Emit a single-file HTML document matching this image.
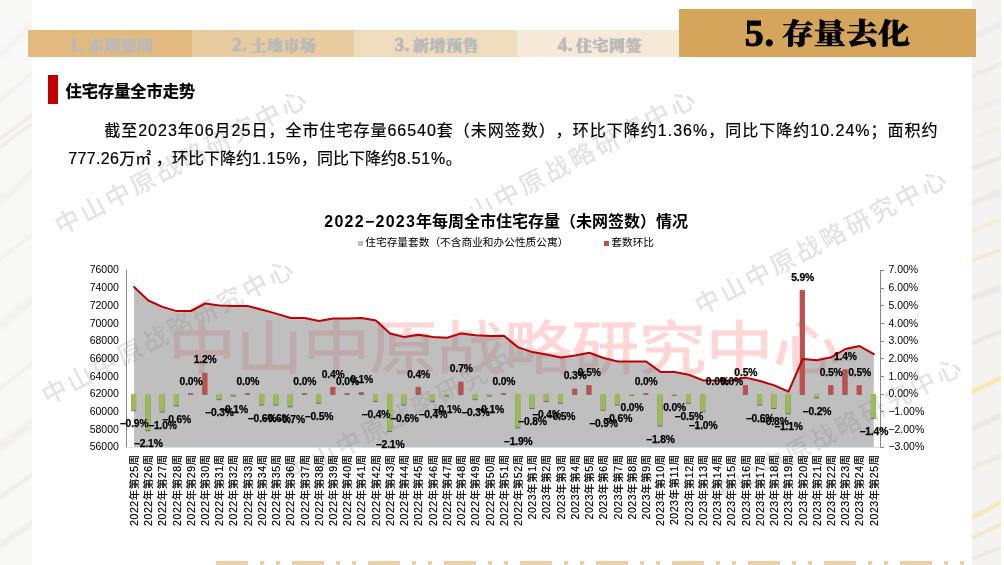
<!DOCTYPE html>
<html lang="zh-CN"><head><meta charset="utf-8"><title>5. 存量去化</title>
<style>
html,body{margin:0;padding:0}
body{width:1004px;height:565px;overflow:hidden;position:relative;background:#fff;font-family:"Liberation Sans","Noto Sans CJK SC",sans-serif;color:#000;text-spacing-trim:space-all}
#left{position:absolute;left:0;top:0}
#right{position:absolute;left:972px;top:0}
#rightw{position:absolute;left:1001px;top:0;width:3px;height:565px;background:#fff}
#panel{position:absolute;left:31.5px;top:0;width:940.5px;height:565px;background:#fff}
.tab{position:absolute;top:29.5px;height:27px;line-height:31px;text-align:center;font-family:"Liberation Serif","Noto Serif CJK SC",serif;font-weight:900;font-size:16px;letter-spacing:0.5px;color:#bababa;-webkit-text-stroke:0.8px #bababa;white-space:nowrap}
.tab .d{font-size:19px;display:inline-block;line-height:20px;vertical-align:baseline}
.tab .c{display:inline-block;transform:scaleY(0.92);transform-origin:50% 55%;margin-left:3px}
.tab{padding-left:3px;box-sizing:border-box}
#t5 .d{font-size:38px;display:inline-block;line-height:40px;position:relative;top:2.8px;left:0.8px;-webkit-text-stroke:1px #000}
#t5 .c{display:inline-block;transform:scaleY(0.905);transform-origin:50% 55%;margin-left:8px;letter-spacing:0.1px;position:relative;top:1.5px;left:-0.5px}
#t1{left:28px;width:164px;background:#e2ba80}
#t2{left:192px;width:162px;background:#e8cb9f}
#t3{left:354px;width:163px;background:#efdcbd}
#t4{left:517px;width:163px;background:#f6e9d8}
#t5{position:absolute;left:679px;top:9px;width:296.5px;height:47.5px;line-height:47.5px;letter-spacing:0.9px;background:#d6a55c;text-align:center;font-family:"Liberation Serif","Noto Serif CJK SC",serif;font-weight:900;font-size:32px;color:#000;-webkit-text-stroke:0.7px #000;white-space:nowrap}
#bar{position:absolute;left:48px;top:75px;width:10px;height:29px;background:#c00000}
#h{position:absolute;left:65.6px;top:80.4px;height:22px;line-height:22px;font-size:16.2px;font-weight:bold;-webkit-text-stroke:0.25px #000;white-space:nowrap}
.pl{position:absolute;font-size:16px;line-height:24px;height:24px;white-space:nowrap;-webkit-text-stroke:0.2px #000}
#p1{left:104.2px;top:118.6px;letter-spacing:1px}
#p2{left:68.3px;top:146.6px}
#p2 .n{letter-spacing:0.7px}
#p2 .n0{letter-spacing:0.35px}
#p2 .m{margin-right:4.7px}
#ct{position:absolute;left:322.3px;top:209px;padding:2px 4px 2px 2px;background:#fff;font-size:16px;font-weight:bold;line-height:22px;white-space:nowrap}
#ct .n{letter-spacing:1.25px}
.lg{position:absolute;top:235.3px;font-size:10.7px;line-height:14px;white-space:nowrap}
.lg i{display:inline-block;width:5px;height:5px;margin-right:2.5px;vertical-align:0.5px}
#chart{position:absolute;left:0;top:0}
#chart .bars{filter:drop-shadow(0.6px 1px 0.7px rgba(0,0,0,0.45))}
#chart .ax{font-family:"Liberation Sans",sans-serif;font-size:10.5px;fill:#000}
#chart .cat{font-family:"Liberation Sans","Noto Sans CJK SC",sans-serif;font-size:10.5px;letter-spacing:0.56px;fill:#000;stroke:#000;stroke-width:0.2px}
#chart .dl{font-family:"Liberation Sans",sans-serif;font-size:10.3px;font-weight:bold;fill:#000;text-anchor:middle;letter-spacing:-0.15px;stroke:#000;stroke-width:0.25px}
.wm{position:absolute;font-size:25px;line-height:28px;font-weight:500;letter-spacing:3.3px;color:#e3e3e3;white-space:nowrap;transform-origin:100% 50%;transform:translate(-100%,-50%) rotate(-27.8deg) translate(15.8px,0)}
#big{position:absolute;left:168.25px;top:320.4px;height:67.5px;font-size:67.5px;line-height:67.5px;letter-spacing:-0.3px;white-space:nowrap;color:#ffd5d5;-webkit-text-stroke:1px #ffd5d5;transform-origin:0 0;transform:scaleY(0.852)}
#strip{position:absolute;left:216px;top:561px;width:749px;height:4px;background:repeating-linear-gradient(90deg,#ebcfa5 0,#ebcfa5 32px,transparent 32px,transparent 44.2px,#ebcfa5 44.2px,#ebcfa5 47.7px,transparent 47.7px,transparent 60.3px,#ebcfa5 60.3px,#ebcfa5 63.7px,transparent 63.7px,transparent 76px)}
</style></head><body>
<svg id="left" width="32" height="565" viewBox="0 0 32 565"><defs><filter id="bl" x="-50%" y="-5%" width="200%" height="110%"><feGaussianBlur stdDeviation="1.2"/></filter></defs><rect width="32" height="565" fill="#f8f8f7"/><g filter="url(#bl)" fill="none" stroke-linecap="butt"><path d="M-4 60 L36 20" stroke="#f3f3f2" stroke-width="6"/><path d="M-4 104 L36 70" stroke="#f2f1f0" stroke-width="4"/><path d="M-4 142 L36 112" stroke="#efe9d6" stroke-width="2.5"/><path d="M-4 150 L36 121" stroke="#e9e6e6" stroke-width="2"/><path d="M-4 205 L36 170" stroke="#f2f2f1" stroke-width="7"/><path d="M-4 262 L36 232" stroke="#f1f0ef" stroke-width="3"/><path d="M-4 330 L36 296" stroke="#f3f2f1" stroke-width="8"/><path d="M-4 392 L36 360" stroke="#f0efee" stroke-width="3"/><path d="M-4 450 L36 420" stroke="#f2f1f0" stroke-width="9"/><path d="M-4 500 L36 472" stroke="#eeedec" stroke-width="4"/><path d="M-4 548 L36 520" stroke="#f0efee" stroke-width="6"/></g></svg><svg id="right" width="29" height="565" viewBox="0 0 29 565"><defs><filter id="br" x="-50%" y="-5%" width="200%" height="110%"><feGaussianBlur stdDeviation="1.1"/></filter></defs><rect width="29" height="565" fill="#f4f3f1"/><g filter="url(#br)" fill="none"><path d="M-4 40 L33 22" stroke="#eceae7" stroke-width="5"/><path d="M-4 78 L33 62" stroke="#e9e7e4" stroke-width="3"/><path d="M-4 112 L33 98" stroke="#efeee9" stroke-width="6"/><path d="M-4 140 L33 126" stroke="#f1edd9" stroke-width="2.5"/><path d="M-4 170 L33 156" stroke="#e8e6e3" stroke-width="4"/><path d="M-4 205 L33 190" stroke="#ebe9e6" stroke-width="6"/><path d="M-4 232 L33 218" stroke="#f1ecd0" stroke-width="3"/><path d="M-4 262 L33 248" stroke="#efe9c4" stroke-width="3"/><path d="M-4 300 L33 286" stroke="#eae8e5" stroke-width="6"/><path d="M-4 345 L33 330" stroke="#e6e4e1" stroke-width="3"/><path d="M-4 394 L33 376" stroke="#f1eaa6" stroke-width="4.5"/><path d="M-4 430 L33 414" stroke="#e9e7e4" stroke-width="5"/><path d="M-4 470 L33 454" stroke="#ece9dc" stroke-width="4"/><path d="M-4 520 L33 500" stroke="#f0e9ae" stroke-width="4"/><path d="M-4 540 L33 522" stroke="#efe8b8" stroke-width="3"/><path d="M-4 560 L33 546" stroke="#e8e6e3" stroke-width="3"/></g></svg><div id="rightw"></div>
<div id="panel"></div>
<div id="big">中山中原战略研究中心</div>
<div class="wm" style="left:293.2px;top:102.8px">中山中原战略研究中心</div>
<div class="wm" style="left:279.6px;top:272.6px">中山中原战略研究中心</div>
<div class="wm" style="left:681.6px;top:103.0px">中山中原战略研究中心</div>
<div class="wm" style="left:933.0px;top:183.0px">中山中原战略研究中心</div>
<div class="wm" style="left:947.5px;top:371.0px">中山中原战略研究中心</div>
<div class="wm" style="left:524.0px;top:351.0px">中山中原战略研究中心</div>
<div class="tab" id="t1"><span class="d">1.</span><span class="c">本期要闻</span></div>
<div class="tab" id="t2"><span class="d">2.</span><span class="c">土地市场</span></div>
<div class="tab" id="t3"><span class="d">3.</span><span class="c">新增预售</span></div>
<div class="tab" id="t4"><span class="d">4.</span><span class="c">住宅网签</span></div>
<div id="t5"><span class="d">5.</span><span class="c">存量去化</span></div>
<div id="bar"></div>
<div id="h">住宅存量全市走势</div>
<div class="pl" id="p1">截至2023年06月25日，全市住宅存量66540套（未网签数），环比下降约1.36%，同比下降约10.24%；面积约</div>
<div class="pl" id="p2"><span class="n0">777.26</span>万<span class="m">㎡</span>，环比下降约<span class="n">1.15%</span>，同比下降约<span class="n">8.51%</span>。</div>
<div id="ct"><span class="n">2022−2023</span>年每周全市住宅存量（未网签数）情况</div>
<div class="lg" style="left:357.8px"><i style="background:#bfbfbf"></i>住宅存量套数（不含商业和办公性质公寓）</div>
<div class="lg" style="left:603.8px"><i style="background:#c0504d"></i>套数环比</div>
<svg id="chart" width="1004" height="565" viewBox="0 0 1004 565">
<polygon points="134.1,447.4 134.1,287.0 148.3,300.5 162.5,306.9 176.7,311.1 191.0,311.0 205.2,303.5 219.4,305.4 233.6,306.0 247.9,306.0 262.1,309.8 276.3,313.6 290.6,318.0 304.8,317.9 319.0,321.1 333.2,318.6 347.5,318.6 361.7,317.9 375.9,320.4 390.1,333.5 404.4,337.1 418.6,334.7 432.8,337.1 447.0,337.7 461.3,333.4 475.5,335.3 489.7,335.9 503.9,335.8 518.2,347.4 532.4,352.1 546.6,354.5 560.9,357.4 575.1,355.6 589.3,352.7 603.5,358.0 617.8,361.5 632.0,361.5 646.2,361.5 660.4,371.9 674.7,371.9 688.9,374.7 703.1,380.4 717.3,380.4 731.6,380.4 745.8,377.6 760.0,381.0 774.3,385.4 788.5,391.6 802.7,359.0 816.9,360.2 831.2,357.3 845.4,349.0 859.6,346.1 873.8,354.2 873.8,447.4" fill="rgb(127,127,127)" fill-opacity="0.5"/>
<line x1="126.5" y1="447.4" x2="880.5" y2="447.4" stroke="#d5e0ee" stroke-width="1"/>
<g class="bars">
<rect x="131.16" y="393.90" width="5.0" height="16.40" fill="#9bbb59"/>
<rect x="145.39" y="393.90" width="5.0" height="36.32" fill="#9bbb59"/>
<rect x="159.62" y="393.90" width="5.0" height="17.63" fill="#9bbb59"/>
<rect x="173.84" y="393.90" width="5.0" height="11.46" fill="#9bbb59"/>
<rect x="188.07" y="393.00" width="5.0" height="0.90" fill="#c0504d"/>
<rect x="202.30" y="372.74" width="5.0" height="21.16" fill="#c0504d"/>
<rect x="216.52" y="393.90" width="5.0" height="5.29" fill="#9bbb59"/>
<rect x="230.75" y="393.90" width="5.0" height="1.76" fill="#9bbb59"/>
<rect x="244.97" y="393.00" width="5.0" height="0.90" fill="#c0504d"/>
<rect x="259.20" y="393.90" width="5.0" height="10.58" fill="#9bbb59"/>
<rect x="273.43" y="393.90" width="5.0" height="10.58" fill="#9bbb59"/>
<rect x="287.65" y="393.90" width="5.0" height="12.34" fill="#9bbb59"/>
<rect x="301.88" y="393.00" width="5.0" height="0.90" fill="#c0504d"/>
<rect x="316.11" y="393.90" width="5.0" height="8.81" fill="#9bbb59"/>
<rect x="330.33" y="386.85" width="5.0" height="7.05" fill="#c0504d"/>
<rect x="344.56" y="393.00" width="5.0" height="0.90" fill="#c0504d"/>
<rect x="358.79" y="392.14" width="5.0" height="1.76" fill="#c0504d"/>
<rect x="373.01" y="393.90" width="5.0" height="7.05" fill="#9bbb59"/>
<rect x="387.24" y="393.90" width="5.0" height="37.02" fill="#9bbb59"/>
<rect x="401.47" y="393.90" width="5.0" height="10.58" fill="#9bbb59"/>
<rect x="415.69" y="386.85" width="5.0" height="7.05" fill="#c0504d"/>
<rect x="429.92" y="393.90" width="5.0" height="7.05" fill="#9bbb59"/>
<rect x="444.14" y="393.90" width="5.0" height="1.76" fill="#9bbb59"/>
<rect x="458.37" y="381.56" width="5.0" height="12.34" fill="#c0504d"/>
<rect x="472.60" y="393.90" width="5.0" height="5.29" fill="#9bbb59"/>
<rect x="486.82" y="393.90" width="5.0" height="1.76" fill="#9bbb59"/>
<rect x="501.05" y="393.00" width="5.0" height="0.90" fill="#c0504d"/>
<rect x="515.28" y="393.90" width="5.0" height="33.50" fill="#9bbb59"/>
<rect x="529.50" y="393.90" width="5.0" height="14.10" fill="#9bbb59"/>
<rect x="543.73" y="393.90" width="5.0" height="7.05" fill="#9bbb59"/>
<rect x="557.96" y="393.90" width="5.0" height="8.81" fill="#9bbb59"/>
<rect x="572.18" y="388.61" width="5.0" height="5.29" fill="#c0504d"/>
<rect x="586.41" y="385.08" width="5.0" height="8.81" fill="#c0504d"/>
<rect x="600.63" y="393.90" width="5.0" height="15.87" fill="#9bbb59"/>
<rect x="614.86" y="393.90" width="5.0" height="10.58" fill="#9bbb59"/>
<rect x="629.09" y="393.90" width="5.0" height="0.90" fill="#9bbb59"/>
<rect x="643.31" y="393.00" width="5.0" height="0.90" fill="#c0504d"/>
<rect x="657.54" y="393.90" width="5.0" height="31.73" fill="#9bbb59"/>
<rect x="671.77" y="393.90" width="5.0" height="0.90" fill="#9bbb59"/>
<rect x="685.99" y="393.90" width="5.0" height="8.81" fill="#9bbb59"/>
<rect x="700.22" y="393.90" width="5.0" height="17.63" fill="#9bbb59"/>
<rect x="742.90" y="385.08" width="5.0" height="8.81" fill="#c0504d"/>
<rect x="757.13" y="393.90" width="5.0" height="10.58" fill="#9bbb59"/>
<rect x="771.35" y="393.90" width="5.0" height="14.10" fill="#9bbb59"/>
<rect x="785.58" y="393.90" width="5.0" height="19.39" fill="#9bbb59"/>
<rect x="799.80" y="289.88" width="5.0" height="104.02" fill="#c0504d"/>
<rect x="814.03" y="393.90" width="5.0" height="3.53" fill="#9bbb59"/>
<rect x="828.26" y="385.08" width="5.0" height="8.81" fill="#c0504d"/>
<rect x="842.48" y="369.22" width="5.0" height="24.68" fill="#c0504d"/>
<rect x="856.71" y="385.08" width="5.0" height="8.81" fill="#c0504d"/>
<rect x="870.94" y="393.90" width="5.0" height="23.98" fill="#9bbb59"/>
</g>
<polyline points="134.1,287.0 148.3,300.5 162.5,306.9 176.7,311.1 191.0,311.0 205.2,303.5 219.4,305.4 233.6,306.0 247.9,306.0 262.1,309.8 276.3,313.6 290.6,318.0 304.8,317.9 319.0,321.1 333.2,318.6 347.5,318.6 361.7,317.9 375.9,320.4 390.1,333.5 404.4,337.1 418.6,334.7 432.8,337.1 447.0,337.7 461.3,333.4 475.5,335.3 489.7,335.9 503.9,335.8 518.2,347.4 532.4,352.1 546.6,354.5 560.9,357.4 575.1,355.6 589.3,352.7 603.5,358.0 617.8,361.5 632.0,361.5 646.2,361.5 660.4,371.9 674.7,371.9 688.9,374.7 703.1,380.4 717.3,380.4 731.6,380.4 745.8,377.6 760.0,381.0 774.3,385.4 788.5,391.6 802.7,359.0 816.9,360.2 831.2,357.3 845.4,349.0 859.6,346.1 873.8,354.2" fill="none" stroke="#c00000" stroke-width="2" stroke-linejoin="round" stroke-linecap="round"/>
<g stroke="#868686" stroke-width="1" fill="none">
<line x1="126.5" y1="270.0" x2="126.5" y2="447.4"/>
<line x1="880.5" y1="270.0" x2="880.5" y2="447.9"/>
<line x1="880.5" y1="270.50" x2="884.0" y2="270.50"/>
<line x1="880.5" y1="288.50" x2="884.0" y2="288.50"/>
<line x1="880.5" y1="305.50" x2="884.0" y2="305.50"/>
<line x1="880.5" y1="323.50" x2="884.0" y2="323.50"/>
<line x1="880.5" y1="341.50" x2="884.0" y2="341.50"/>
<line x1="880.5" y1="358.50" x2="884.0" y2="358.50"/>
<line x1="880.5" y1="376.50" x2="884.0" y2="376.50"/>
<line x1="880.5" y1="394.50" x2="884.0" y2="394.50"/>
<line x1="880.5" y1="411.50" x2="884.0" y2="411.50"/>
<line x1="880.5" y1="429.50" x2="884.0" y2="429.50"/>
<line x1="880.5" y1="447.50" x2="884.0" y2="447.50"/>
</g>
<g class="ax">
<text x="118.9" y="273.4" text-anchor="end">76000</text>
<text x="888.4" y="273.4">7.00%</text>
<text x="118.9" y="291.1" text-anchor="end">74000</text>
<text x="888.4" y="291.1">6.00%</text>
<text x="118.9" y="308.8" text-anchor="end">72000</text>
<text x="888.4" y="308.8">5.00%</text>
<text x="118.9" y="326.5" text-anchor="end">70000</text>
<text x="888.4" y="326.5">4.00%</text>
<text x="118.9" y="344.2" text-anchor="end">68000</text>
<text x="888.4" y="344.2">3.00%</text>
<text x="118.9" y="361.8" text-anchor="end">66000</text>
<text x="888.4" y="361.8">2.00%</text>
<text x="118.9" y="379.5" text-anchor="end">64000</text>
<text x="888.4" y="379.5">1.00%</text>
<text x="118.9" y="397.2" text-anchor="end">62000</text>
<text x="888.4" y="397.2">0.00%</text>
<text x="118.9" y="414.9" text-anchor="end">60000</text>
<text x="888.4" y="414.9">−1.00%</text>
<text x="118.9" y="432.6" text-anchor="end">58000</text>
<text x="888.4" y="432.6">−2.00%</text>
<text x="118.9" y="450.3" text-anchor="end">56000</text>
<text x="888.4" y="450.3">−3.00%</text>
</g>
<g class="cat">
<text transform="translate(137.8,454.3) rotate(-90)" text-anchor="end">2022年第25周</text>
<text transform="translate(152.0,454.3) rotate(-90)" text-anchor="end">2022年第26周</text>
<text transform="translate(166.3,454.3) rotate(-90)" text-anchor="end">2022年第27周</text>
<text transform="translate(180.5,454.3) rotate(-90)" text-anchor="end">2022年第28周</text>
<text transform="translate(194.7,454.3) rotate(-90)" text-anchor="end">2022年第29周</text>
<text transform="translate(208.9,454.3) rotate(-90)" text-anchor="end">2022年第30周</text>
<text transform="translate(223.2,454.3) rotate(-90)" text-anchor="end">2022年第31周</text>
<text transform="translate(237.4,454.3) rotate(-90)" text-anchor="end">2022年第32周</text>
<text transform="translate(251.6,454.3) rotate(-90)" text-anchor="end">2022年第33周</text>
<text transform="translate(265.9,454.3) rotate(-90)" text-anchor="end">2022年第34周</text>
<text transform="translate(280.1,454.3) rotate(-90)" text-anchor="end">2022年第35周</text>
<text transform="translate(294.3,454.3) rotate(-90)" text-anchor="end">2022年第36周</text>
<text transform="translate(308.5,454.3) rotate(-90)" text-anchor="end">2022年第37周</text>
<text transform="translate(322.8,454.3) rotate(-90)" text-anchor="end">2022年第38周</text>
<text transform="translate(337.0,454.3) rotate(-90)" text-anchor="end">2022年第39周</text>
<text transform="translate(351.2,454.3) rotate(-90)" text-anchor="end">2022年第40周</text>
<text transform="translate(365.4,454.3) rotate(-90)" text-anchor="end">2022年第41周</text>
<text transform="translate(379.7,454.3) rotate(-90)" text-anchor="end">2022年第42周</text>
<text transform="translate(393.9,454.3) rotate(-90)" text-anchor="end">2022年第43周</text>
<text transform="translate(408.1,454.3) rotate(-90)" text-anchor="end">2022年第44周</text>
<text transform="translate(422.3,454.3) rotate(-90)" text-anchor="end">2022年第45周</text>
<text transform="translate(436.6,454.3) rotate(-90)" text-anchor="end">2022年第46周</text>
<text transform="translate(450.8,454.3) rotate(-90)" text-anchor="end">2022年第47周</text>
<text transform="translate(465.0,454.3) rotate(-90)" text-anchor="end">2022年第48周</text>
<text transform="translate(479.2,454.3) rotate(-90)" text-anchor="end">2022年第49周</text>
<text transform="translate(493.5,454.3) rotate(-90)" text-anchor="end">2022年第50周</text>
<text transform="translate(507.7,454.3) rotate(-90)" text-anchor="end">2022年第51周</text>
<text transform="translate(521.9,454.3) rotate(-90)" text-anchor="end">2022年第52周</text>
<text transform="translate(536.2,454.3) rotate(-90)" text-anchor="end">2023年第1周</text>
<text transform="translate(550.4,454.3) rotate(-90)" text-anchor="end">2023年第2周</text>
<text transform="translate(564.6,454.3) rotate(-90)" text-anchor="end">2023年第3周</text>
<text transform="translate(578.8,454.3) rotate(-90)" text-anchor="end">2023年第4周</text>
<text transform="translate(593.1,454.3) rotate(-90)" text-anchor="end">2023年第5周</text>
<text transform="translate(607.3,454.3) rotate(-90)" text-anchor="end">2023年第6周</text>
<text transform="translate(621.5,454.3) rotate(-90)" text-anchor="end">2023年第7周</text>
<text transform="translate(635.7,454.3) rotate(-90)" text-anchor="end">2023年第8周</text>
<text transform="translate(650.0,454.3) rotate(-90)" text-anchor="end">2023年第9周</text>
<text transform="translate(664.2,454.3) rotate(-90)" text-anchor="end">2023年第10周</text>
<text transform="translate(678.4,454.3) rotate(-90)" text-anchor="end">2023年第11周</text>
<text transform="translate(692.6,454.3) rotate(-90)" text-anchor="end">2023年第12周</text>
<text transform="translate(706.9,454.3) rotate(-90)" text-anchor="end">2023年第13周</text>
<text transform="translate(721.1,454.3) rotate(-90)" text-anchor="end">2023年第14周</text>
<text transform="translate(735.3,454.3) rotate(-90)" text-anchor="end">2023年第15周</text>
<text transform="translate(749.5,454.3) rotate(-90)" text-anchor="end">2023年第16周</text>
<text transform="translate(763.8,454.3) rotate(-90)" text-anchor="end">2023年第17周</text>
<text transform="translate(778.0,454.3) rotate(-90)" text-anchor="end">2023年第18周</text>
<text transform="translate(792.2,454.3) rotate(-90)" text-anchor="end">2023年第19周</text>
<text transform="translate(806.5,454.3) rotate(-90)" text-anchor="end">2023年第20周</text>
<text transform="translate(820.7,454.3) rotate(-90)" text-anchor="end">2023年第21周</text>
<text transform="translate(834.9,454.3) rotate(-90)" text-anchor="end">2023年第22周</text>
<text transform="translate(849.1,454.3) rotate(-90)" text-anchor="end">2023年第23周</text>
<text transform="translate(863.4,454.3) rotate(-90)" text-anchor="end">2023年第24周</text>
<text transform="translate(877.6,454.3) rotate(-90)" text-anchor="end">2023年第25周</text>
</g>
<g class="dl">
<text x="134.1" y="427.4">−0.9%</text>
<text x="148.3" y="447.3">−2.1%</text>
<text x="162.5" y="428.6">−1.0%</text>
<text x="176.7" y="422.5">−0.6%</text>
<text x="191.0" y="384.6">0.0%</text>
<text x="205.2" y="363.4">1.2%</text>
<text x="219.4" y="416.3">−0.3%</text>
<text x="233.6" y="412.8">−0.1%</text>
<text x="247.9" y="384.6">0.0%</text>
<text x="262.1" y="421.6">−0.6%</text>
<text x="276.3" y="421.6">−0.6%</text>
<text x="290.6" y="423.3">−0.7%</text>
<text x="304.8" y="384.6">0.0%</text>
<text x="319.0" y="419.8">−0.5%</text>
<text x="333.2" y="377.5">0.4%</text>
<text x="347.5" y="384.6">0.0%</text>
<text x="361.7" y="382.8">0.1%</text>
<text x="375.9" y="418.1">−0.4%</text>
<text x="390.1" y="448.0">−2.1%</text>
<text x="404.4" y="421.6">−0.6%</text>
<text x="418.6" y="377.5">0.4%</text>
<text x="432.8" y="418.1">−0.4%</text>
<text x="447.0" y="412.8">−0.1%</text>
<text x="461.3" y="372.3">0.7%</text>
<text x="475.5" y="416.3">−0.3%</text>
<text x="489.7" y="412.8">−0.1%</text>
<text x="503.9" y="384.6">0.0%</text>
<text x="518.2" y="444.5">−1.9%</text>
<text x="532.4" y="425.1">−0.8%</text>
<text x="546.6" y="418.1">−0.4%</text>
<text x="560.9" y="419.8">−0.5%</text>
<text x="575.1" y="379.3">0.3%</text>
<text x="589.3" y="375.8">0.5%</text>
<text x="603.5" y="426.9">−0.9%</text>
<text x="617.8" y="421.6">−0.6%</text>
<text x="632.0" y="411.0">0.0%</text>
<text x="646.2" y="384.6">0.0%</text>
<text x="660.4" y="442.7">−1.8%</text>
<text x="674.7" y="411.0">0.0%</text>
<text x="688.9" y="419.8">−0.5%</text>
<text x="703.1" y="428.6">−1.0%</text>
<text x="717.3" y="384.6">0.0%</text>
<text x="731.6" y="384.6">0.0%</text>
<text x="745.8" y="375.8">0.5%</text>
<text x="760.0" y="421.6">−0.6%</text>
<text x="774.3" y="425.1">−0.8%</text>
<text x="788.5" y="430.4">−1.1%</text>
<text x="802.7" y="280.6">5.9%</text>
<text x="816.9" y="414.5">−0.2%</text>
<text x="831.2" y="375.8">0.5%</text>
<text x="845.4" y="359.9">1.4%</text>
<text x="859.6" y="375.8">0.5%</text>
<text x="873.8" y="435.0">−1.4%</text>
</g>
</svg>
<div id="strip"></div>
</body></html>
